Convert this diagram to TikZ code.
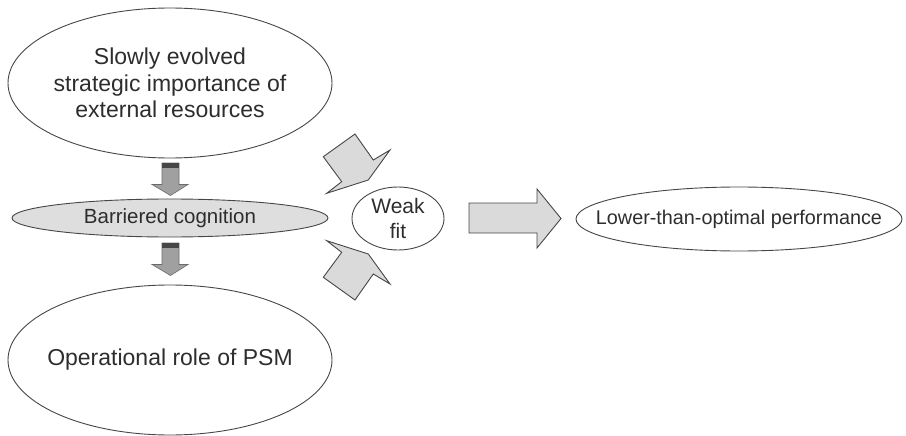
\documentclass[tikz,border=0pt]{standalone}
\usepackage{fontspec}
\setmainfont{Liberation Sans}
\usetikzlibrary{shapes.geometric}
\definecolor{txt}{RGB}{45,45,45}
\definecolor{edge}{RGB}{70,70,70}
\definecolor{blockfill}{RGB}{218,218,218}
\definecolor{smallfill}{RGB}{160,160,160}
\definecolor{capfill}{RGB}{70,70,70}
\definecolor{grainfill}{RGB}{222,222,222}
\tikzset{
  oval/.style={ellipse, draw=edge, line width=0.9pt, inner sep=0pt},
  lbl/.style={text=txt, align=center, inner sep=0pt},
  blockarrow/.style={draw=edge, fill=blockfill, line width=0.9pt, line join=miter},
  smallarrow/.style={draw=edge!80, fill=smallfill, line width=0.6pt},
  arrowcap/.style={fill=capfill, draw=none}
}
\begin{document}
\begin{tikzpicture}[x=1pt,y=-1pt]
\useasboundingbox (0,0) rectangle (906,436);
% ellipses
\node[oval, minimum width=324pt, minimum height=150pt] (top) at (170,83) {};
\node[oval, fill=grainfill, minimum width=316pt, minimum height=38pt] (barr) at (170,218) {};
\node[oval, minimum width=324pt, minimum height=150pt] (bot) at (170,360) {};
\node[oval, minimum width=92pt, minimum height=63pt] (weak) at (398,218.5) {};
\node[oval, minimum width=326pt, minimum height=64pt] (low) at (739,219) {};
% labels
\node[lbl, font=\fontsize{23}{26.7}\selectfont] (toptext) at (top.center)
  {Slowly evolved\\strategic importance of\\external resources};
\node[lbl, font=\fontsize{20.5}{24}\selectfont] (barrtext) at (barr.center) {Barriered cognition};
\node[lbl, font=\fontsize{23}{26.7}\selectfont] (bottext) at (bot.center) {Operational role of PSM};
\node[lbl, font=\fontsize{21}{25}\selectfont] (weaktext) at (weak.center) {Weak\\fit};
\node[lbl, font=\fontsize{19.8}{24}\selectfont] (lowtext) at (low.center) {Lower-than-optimal performance};
% small down arrows
\foreach \t in {163,243}{
  \draw[smallarrow] (162,\t) -- (179,\t) -- (179,\t+21.5) -- (188,\t+21.5)
     -- (170.5,\t+32.5) -- (152,\t+21.5) -- (162,\t+21.5) -- cycle;
  \fill[capfill] (162,\t) rectangle (179,\t+5);
}
% upper block arrow
\draw[blockarrow] (323.3,156.7) -- (355,134) -- (373.3,160) -- (390,150)
  -- (368.3,180) -- (326.7,193.3) -- (341.7,181.7) -- cycle;
% lower block arrow
\draw[blockarrow] (323.3,277.3) -- (355,300) -- (373.3,274) -- (390,284)
  -- (368.3,254) -- (326.7,240.7) -- (341.7,252.3) -- cycle;
% big right arrow
\draw[blockarrow] (469,203) -- (537,203) -- (537,189) -- (561,218.5)
  -- (537,248) -- (537,233) -- (469,233) -- cycle;
\end{tikzpicture}
\end{document}
